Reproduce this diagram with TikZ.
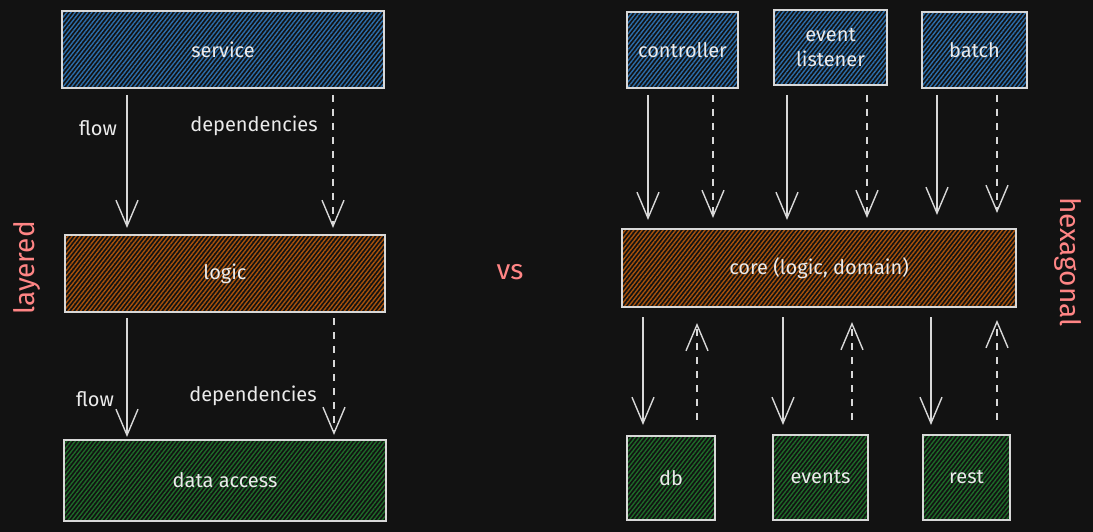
\documentclass[tikz,border=0pt]{standalone}
\usepackage{fontspec}
\setmainfont{Fira Sans}
\usetikzlibrary{arrows.meta,patterns.meta,positioning}

\definecolor{bgcol}{HTML}{121212}
\definecolor{boxline}{HTML}{D8D8D8}
\definecolor{txtcol}{HTML}{EBEBEB}
\definecolor{svcblue}{HTML}{2C6EAB}
\definecolor{logicorange}{HTML}{A8520C}
\definecolor{datagreen}{HTML}{1E6B29}
\definecolor{titlepink}{HTML}{FF8585}

\tikzset{
  box/.style={draw=boxline, line width=1.5pt, inner sep=0pt, outer sep=0pt,
    text=txtcol, font=\fontsize{20}{25}\selectfont, align=center},
  hatch/.style={pattern={Lines[angle=52,distance=3.3pt,line width=1.4pt]}, pattern color=#1},
  lbl/.style={text=txtcol, font=\fontsize{20}{25}\selectfont},
  title/.style={text=titlepink, font=\fontsize{28}{30}\selectfont},
  flowarrow/.style={draw=boxline, line width=1.4pt,
    -{Straight Barb[length=26pt,width=22pt]}},
  deparrow/.style={flowarrow, dash pattern=on 7pt off 7pt}
}

\begin{document}
\begin{tikzpicture}[x=1pt,y=-1pt]
	\fill[bgcol] (0,0) rectangle (1093,532);
	\useasboundingbox (0,0) rectangle (1093,532);
	
	% layered
	\node[box, hatch=svcblue, minimum width=322pt, minimum height=77pt] (service) at (223,49.5) {service};
	\node[box, hatch=logicorange, minimum width=320pt, minimum height=77pt] (logic) at (225,273.5) {logic};
	\node[box, hatch=datagreen, minimum width=322pt, minimum height=81pt] (data) at (225,480.5) {data access};
	
	\draw[flowarrow, shorten <=7pt, shorten >=7pt] (service.south -| 127,0) -- (logic.north -| 127,0);
	\draw[deparrow, shorten <=7pt, shorten >=7pt] (service.south -| 333,0) -- (logic.north -| 333,0);
	\draw[flowarrow, shorten <=6pt, shorten >=3pt] (logic.south -| 127,0) -- (data.north -| 127,0);
	\draw[deparrow, shorten <=6pt, shorten >=5pt] (logic.south -| 334,0) -- (data.north -| 334,0);
	
	\node[lbl] (flowA) at (98,128) {flow};
	\node[lbl] (depA) at (254,126) {dependencies};
	\node[lbl] (flowB) at (95,399) {flow};
	\node[lbl] (depB) at (253,396) {dependencies};
	
	\node[title, rotate=90] (layered) at (27,268) {layered};
	\node[title] (vs) at (510,272) {vs};
	\node[title, rotate=-90] (hexagonal) at (1068,262) {hexagonal};
	
	% hexagonal
	\node[box, hatch=svcblue, minimum width=111pt, minimum height=76pt] (controller) at (682.5,50) {controller};
	\node[box, hatch=svcblue, minimum width=113pt, minimum height=75pt] (listener) at (830.5,47.5) {event\\listener};
	\node[box, hatch=svcblue, minimum width=105pt, minimum height=76pt] (batch) at (974.5,50) {batch};
	\node[box, hatch=logicorange, minimum width=394pt, minimum height=78pt] (core) at (819,268) {core (logic, domain)};
	\node[box, hatch=datagreen, minimum width=88pt, minimum height=84pt] (db) at (671,478) {db};
	\node[box, hatch=datagreen, minimum width=95pt, minimum height=85pt] (events) at (820.5,477.5) {events};
	\node[box, hatch=datagreen, minimum width=87pt, minimum height=85pt] (rest) at (966.5,477.5) {rest};
	
	\draw[flowarrow, shorten <=7pt, shorten >=9pt] (controller.south -| 648,0) -- (core.north -| 648,0);
	\draw[deparrow, shorten <=7pt, shorten >=11pt] (controller.south -| 713,0) -- (core.north -| 713,0);
	\draw[flowarrow, shorten <=10pt, shorten >=9pt] (listener.south -| 787,0) -- (core.north -| 787,0);
	\draw[deparrow, shorten <=10pt, shorten >=11pt] (listener.south -| 867,0) -- (core.north -| 867,0);
	\draw[flowarrow, shorten <=7pt, shorten >=14pt] (batch.south -| 937,0) -- (core.north -| 937,0);
	\draw[deparrow, shorten <=7pt, shorten >=16pt] (batch.south -| 997,0) -- (core.north -| 997,0);
	
	\draw[flowarrow, shorten <=10pt, shorten >=11pt] (core.south -| 643,0) -- (db.north -| 643,0);
	\draw[deparrow, shorten <=16pt, shorten >=16pt] (db.north -| 697,0) -- (core.south -| 697,0);
	\draw[flowarrow, shorten <=10pt, shorten >=10pt] (core.south -| 783,0) -- (events.north -| 783,0);
	\draw[deparrow, shorten <=15pt, shorten >=15pt] (events.north -| 852,0) -- (core.south -| 852,0);
	\draw[flowarrow, shorten <=10pt, shorten >=10pt] (core.south -| 931,0) -- (rest.north -| 931,0);
	\draw[deparrow, shorten <=15pt, shorten >=13pt] (rest.north -| 997,0) -- (core.south -| 997,0);
\end{tikzpicture}
\end{document}
